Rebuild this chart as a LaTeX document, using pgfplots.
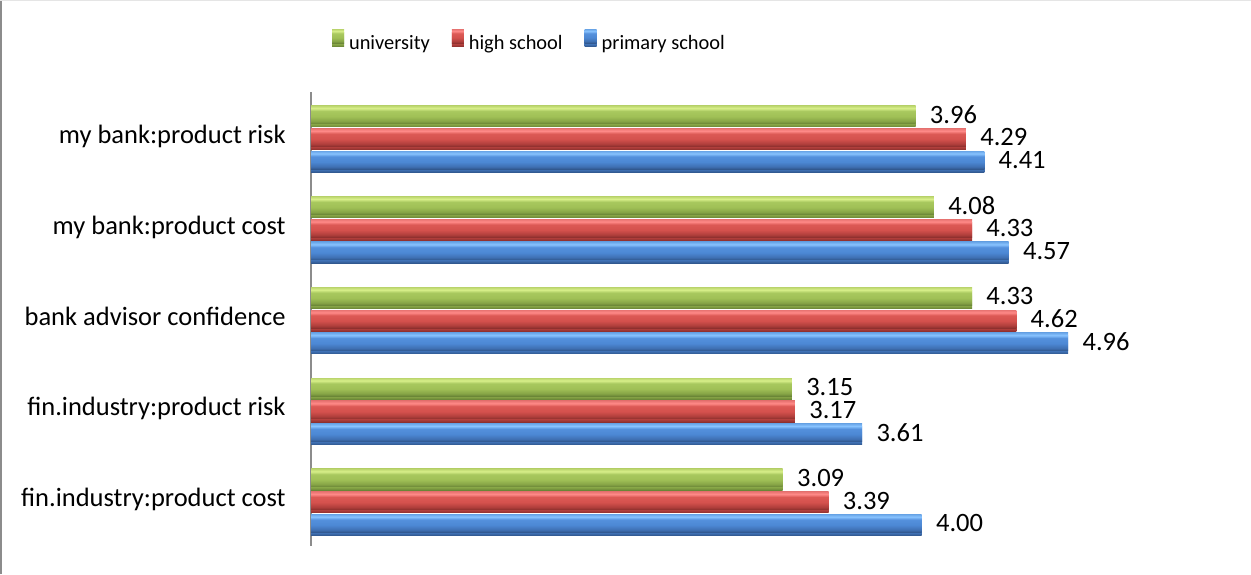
\documentclass[border=0pt]{standalone}
\usepackage{pgfplots}
\pgfplotsset{compat=1.18}
\usepackage{fontspec}
\setmainfont{Carlito}

% bevelled bar colours (bottom edge -> top edge)
\definecolor{gA}{HTML}{6A8536}\definecolor{gB}{HTML}{86A446}\definecolor{gC}{HTML}{A0C056}
\definecolor{gD}{HTML}{A8C85E}\definecolor{gE}{HTML}{D8EF8A}\definecolor{gF}{HTML}{BCD66E}
\definecolor{rA}{HTML}{8E302E}\definecolor{rB}{HTML}{B03F3C}\definecolor{rC}{HTML}{D4514D}
\definecolor{rD}{HTML}{DC5955}\definecolor{rE}{HTML}{FF8A88}\definecolor{rF}{HTML}{E87472}
\definecolor{bA}{HTML}{30578D}\definecolor{bB}{HTML}{3F70B3}\definecolor{bC}{HTML}{4C88D4}
\definecolor{bD}{HTML}{5490DC}\definecolor{bE}{HTML}{88C3FF}\definecolor{bF}{HTML}{6AA6E8}

\pgfdeclareverticalshading{greenbar}{100bp}{color(0bp)=(gA); color(25bp)=(gA); color(32bp)=(gB);
  color(45bp)=(gC); color(60bp)=(gD); color(68bp)=(gE); color(75bp)=(gF); color(100bp)=(gF)}
\pgfdeclareverticalshading{redbar}{100bp}{color(0bp)=(rA); color(25bp)=(rA); color(32bp)=(rB);
  color(45bp)=(rC); color(60bp)=(rD); color(68bp)=(rE); color(75bp)=(rF); color(100bp)=(rF)}
\pgfdeclareverticalshading{bluebar}{100bp}{color(0bp)=(bA); color(25bp)=(bA); color(32bp)=(bB);
  color(45bp)=(bC); color(60bp)=(bD); color(68bp)=(bE); color(75bp)=(bF); color(100bp)=(bF)}

% each bar is its own plot so that every bar gets its own shading
\pgfplotsset{
  barbase/.style={draw=none, preaction={fill=black!13, transform canvas={yshift=-1.6pt}}},
  univ/.style={barbase, shading=greenbar, bar shift=11.35pt},
  high/.style={barbase, shading=redbar, bar shift=0pt},
  prim/.style={barbase, shading=bluebar, bar shift=-11.35pt},
}

\begin{document}
\begin{tikzpicture}
\path[use as bounding box] (0,0) rectangle (625.5pt,287pt);
% chart frame
\draw[line width=1pt, draw=black!45] (0.5pt,0) -- (0.5pt,287pt);
\draw[line width=0.5pt, draw=black!10] (0,286.75pt) -- (625.5pt,286.75pt);
\begin{axis}[
  at={(155.5pt,14pt)}, anchor=south west,
  scale only axis, width=458pt, height=227pt,
  xmin=0, xmax=6, ymin=-0.5, ymax=4.5,
  axis x line=none, axis y line*=left,
  y axis line style={draw=black!45, line width=1pt},
  xtick=\empty,
  ytick={0,1,2,3,4},
  yticklabels={fin.industry:product cost, fin.industry:product risk, bank advisor confidence, my bank:product cost, my bank:product risk},
  major tick length=0pt,
  yticklabel style={anchor=base east, inner sep=0pt, xshift=-12.5pt, yshift=-3pt, font=\fontsize{13.25}{15}\selectfont},
  xbar, bar width=9pt,
  clip=false,
  point meta=x,
  nodes near coords={\pgfmathprintnumber[fixed,fixed zerofill,precision=2,assume math mode=true]{\pgfplotspointmeta}},
  every node near coord/.append style={anchor=west, inner sep=0pt, xshift=7pt, text=black, font=\fontsize{13.25}{15}\selectfont},
  legend columns=-1,
  legend style={at={(0.2385,1.114)}, anchor=center, draw=none, fill=none, inner sep=0pt,
    font=\fontsize{10.2}{12}\selectfont,
    nodes={inner sep=1pt, text depth=0pt},
    /tikz/every even column/.append style={column sep=10pt}},
]
% university
\addplot[univ, legend image code/.code={\shade[shading=greenbar] (0pt,-0.5pt) rectangle (6pt,6.5pt); \path (7.5pt,0pt);}]
  coordinates {(3.09,0)};
\addlegendentry{university}
% high school
\addplot[high, legend image code/.code={\shade[shading=redbar] (0pt,-0.5pt) rectangle (6pt,6.5pt); \path (7.5pt,0pt);}]
  coordinates {(3.39,0)};
\addlegendentry{high school}
% primary school
\addplot[prim, legend image code/.code={\shade[shading=bluebar] (0pt,-0.5pt) rectangle (6pt,6.5pt); \path (7.5pt,0pt);}]
  coordinates {(4.00,0)};
\addlegendentry{primary school}

\addplot[univ, forget plot] coordinates {(3.15,1)};
\addplot[univ, forget plot] coordinates {(4.33,2)};
\addplot[univ, forget plot] coordinates {(4.08,3)};
\addplot[univ, forget plot] coordinates {(3.96,4)};

\addplot[high, forget plot] coordinates {(3.17,1)};
\addplot[high, forget plot] coordinates {(4.62,2)};
\addplot[high, forget plot] coordinates {(4.33,3)};
\addplot[high, forget plot] coordinates {(4.29,4)};

\addplot[prim, forget plot] coordinates {(3.61,1)};
\addplot[prim, forget plot] coordinates {(4.96,2)};
\addplot[prim, forget plot] coordinates {(4.57,3)};
\addplot[prim, forget plot] coordinates {(4.41,4)};
\end{axis}
\end{tikzpicture}
\end{document}
